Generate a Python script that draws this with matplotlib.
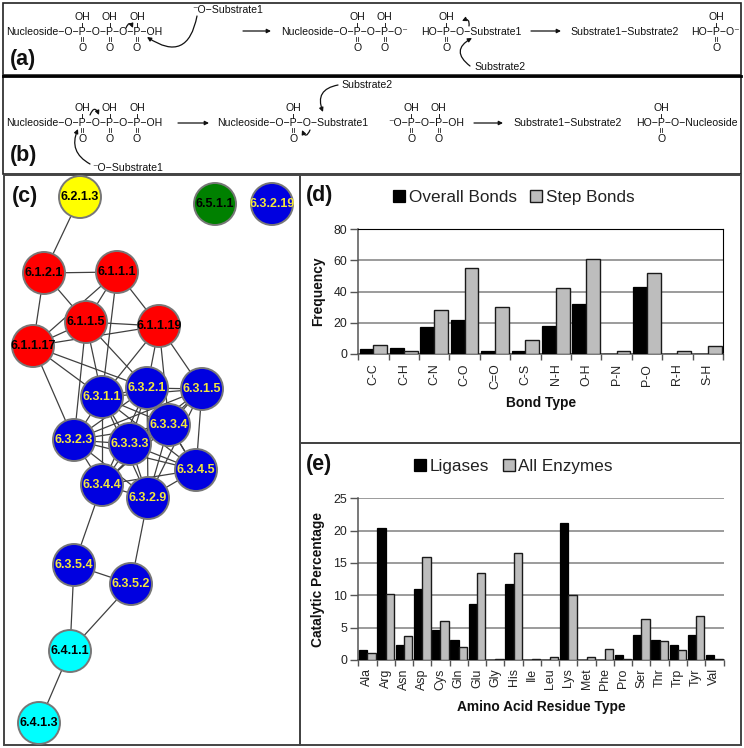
import numpy as np
import matplotlib
matplotlib.use("Agg")
import matplotlib.pyplot as plt
from matplotlib.patches import Circle, Rectangle, FancyArrowPatch

plt.rcParams['font.family'] = ['Liberation Sans', 'DejaVu Sans']

# ---------- data ----------
bond_types = ['C-C', 'C-H', 'C-N', 'C-O', 'C=O', 'C-S', 'N-H', 'O-H', 'P-N', 'P-O', 'R-H', 'S-H']
overall_bonds = [3, 4, 17, 22, 2, 2, 18, 32, 0, 43, 0, 0]
step_bonds = [6, 2, 28, 55, 30, 9, 42, 61, 2, 52, 2, 5]

residues = ['Ala', 'Arg', 'Asn', 'Asp', 'Cys', 'Gln', 'Glu', 'Gly', 'His', 'Ile', 'Leu', 'Lys',
            'Met', 'Phe', 'Pro', 'Ser', 'Thr', 'Trp', 'Tyr', 'Val']
ligases = [1.5, 20.4, 2.3, 11.0, 4.7, 3.1, 8.6, 0, 11.8, 0, 0, 21.2, 0, 0, 0.7, 3.9, 3.1, 2.3, 3.9, 0.7]
all_enzymes = [1.1, 10.2, 3.7, 15.9, 6.1, 2.0, 13.5, 0.1, 16.5, 0.2, 0.4, 10.0, 0.4, 1.7, 0.2, 6.3, 2.9, 1.5, 6.8, 0.2]

node_names = ['6.2.1.3', '6.5.1.1', '6.3.2.19', '6.1.2.1', '6.1.1.1', '6.1.1.5', '6.1.1.19', '6.1.1.17',
              '6.3.1.1', '6.3.2.1', '6.3.1.5', '6.3.3.4', '6.3.2.3', '6.3.3.3', '6.3.4.5', '6.3.4.4',
              '6.3.2.9', '6.3.5.4', '6.3.5.2', '6.4.1.1', '6.4.1.3']
node_x = [80, 215, 272, 44, 117, 86, 159, 33, 102, 147, 202, 169, 74, 130, 196, 102, 148, 74, 131, 70, 39]
node_y = [197, 204, 204, 273, 272, 322, 326, 346, 397, 388, 389, 425, 440, 444, 470, 485, 498, 565, 584, 651, 723]
node_fill = ['#ffff00', '#008000', '#0000e0'] + ['#ff0000'] * 5 + ['#0000e0'] * 11 + ['#00ffff'] * 2
node_text = ['black', 'black', '#f2e63c'] + ['black'] * 5 + ['#f2e63c'] * 11 + ['black'] * 2

edges = [('6.2.1.3', '6.1.2.1'), ('6.1.2.1', '6.1.1.1'), ('6.1.2.1', '6.1.1.5'), ('6.1.2.1', '6.1.1.17'),
         ('6.1.1.1', '6.1.1.5'), ('6.1.1.1', '6.1.1.17'), ('6.1.1.1', '6.1.1.19'), ('6.1.1.1', '6.3.1.1'),
         ('6.1.1.5', '6.1.1.19'), ('6.1.1.5', '6.1.1.17'), ('6.1.1.5', '6.3.1.1'), ('6.1.1.5', '6.3.2.1'),
         ('6.1.1.5', '6.3.2.3'), ('6.1.1.19', '6.1.1.17'), ('6.1.1.19', '6.3.1.1'), ('6.1.1.19', '6.3.2.1'),
         ('6.1.1.19', '6.3.3.4'), ('6.1.1.19', '6.3.1.5'), ('6.1.1.17', '6.3.1.1'), ('6.1.1.17', '6.3.2.1'),
         ('6.1.1.17', '6.3.2.3'), ('6.3.4.4', '6.3.5.4'), ('6.3.2.9', '6.3.5.2'), ('6.3.5.4', '6.3.5.2'),
         ('6.3.5.4', '6.4.1.1'), ('6.3.5.2', '6.4.1.1'), ('6.4.1.1', '6.4.1.3')]
dense_group = ['6.3.1.1', '6.3.2.1', '6.3.1.5', '6.3.3.4', '6.3.2.3', '6.3.3.3', '6.3.4.5', '6.3.4.4', '6.3.2.9']

# ---------- figure ----------
W, H = 744, 748
fig = plt.figure(figsize=(W / 100, H / 100), dpi=100, facecolor='white')
ov = fig.add_axes([0, 0, 1, 1])
ov.set_xlim(0, W)
ov.set_ylim(H, 0)
ov.axis('off')
rend = fig.canvas.get_renderer()

CHEM = 7.6


def width(s):
    t = ov.text(0, 0, s, fontsize=CHEM)
    w = t.get_window_extent(rend).width
    t.remove()
    return w


def chain(x, y, s):
    ov.text(x, y, s, fontsize=CHEM, ha='left', va='center', color='#111111')
    for i, c in enumerate(s):
        if c == 'P':
            cx = x + width(s[:i] + 'P') - width('P') / 2
            ov.text(cx, y - 15, 'OH', fontsize=CHEM, ha='center', va='center', color='#111111')
            ov.text(cx, y + 15.5, 'O', fontsize=CHEM, ha='center', va='center', color='#111111')
            ov.plot([cx, cx], [y - 9.5, y - 5.5], color='#222222', lw=0.7)
            for d in (-1, 1):
                ov.plot([cx + d, cx + d], [y + 4.5, y + 9], color='#222222', lw=0.6)


def straight(x0, x1, y):
    ov.add_patch(FancyArrowPatch((x0, y), (x1, y), arrowstyle='-|>', mutation_scale=6, lw=0.9,
                                 color='#111111', shrinkA=0, shrinkB=0))


def curved(p0, p1, rad):
    ov.add_patch(FancyArrowPatch(p0, p1, connectionstyle=f'arc3,rad={rad}', arrowstyle='-|>',
                                 mutation_scale=6, lw=0.9, color='#111111', shrinkA=0, shrinkB=0))


# panel frames
for (x, y, w, h, lw, col) in [(3, 3, 738, 72, 1.2, '#222222'), (3, 76, 738, 98, 1.2, '#222222'),
                              (4, 175, 296, 570, 1.4, '#444444'), (300, 175, 441, 268, 1.4, '#444444'),
                              (300, 443, 441, 302, 1.4, '#444444')]:
    ov.add_patch(Rectangle((x, y), w, h, fill=False, ec=col, lw=lw))
ov.plot([3, 741], [75.5, 75.5], color='black', lw=2)

# panel (a)
chain(6, 32, 'Nucleoside\u2212O\u2212P\u2212O\u2212P\u2212O\u2212P\u2212OH')
chain(281, 32, 'Nucleoside\u2212O\u2212P\u2212O\u2212P\u2212O\u207b')
chain(421, 32, 'HO\u2212P\u2212O\u2212Substrate1')
chain(691, 32, 'HO\u2212P\u2212O\u207b')
ov.text(570, 32, 'Substrate1\u2212Substrate2', fontsize=CHEM, va='center', color='#111111')
ov.text(192, 10, '\u207bO\u2212Substrate1', fontsize=CHEM, va='center', color='#111111')
ov.text(474, 67, 'Substrate2', fontsize=CHEM, va='center', color='#111111')
straight(243, 271, 31)
straight(531, 561, 31)
curved((197, 16), (147, 37), -0.75)
curved((470, 66), (472, 38), -0.75)
curved((126, 28), (133, 28), -1.2)
curved((469, 26), (462, 21), 0.9)

# panel (b)
chain(6, 123, 'Nucleoside\u2212O\u2212P\u2212O\u2212P\u2212O\u2212P\u2212OH')
chain(217, 123, 'Nucleoside\u2212O\u2212P\u2212O\u2212Substrate1')
chain(388, 123, '\u207bO\u2212P\u2212O\u2212P\u2212OH')
chain(636, 123, 'HO\u2212P\u2212O\u2212Nucleoside')
ov.text(513, 123, 'Substrate1\u2212Substrate2', fontsize=CHEM, va='center', color='#111111')
ov.text(341, 85, 'Substrate2', fontsize=CHEM, va='center', color='#111111')
ov.text(92, 168, '\u207bO\u2212Substrate1', fontsize=CHEM, va='center', color='#111111')
straight(178, 209, 123)
straight(474, 503, 123)
curved((338, 85), (323, 112), 0.6)
curved((90, 164), (78, 129), -0.45)
curved((90, 115), (99, 115), -1.2)
curved((310, 130), (302, 130), -1.2)

# panel letters
for (x, y, s) in [(10, 59, '(a)'), (10, 155, '(b)'), (12, 196, '(c)'), (306, 195, '(d)'), (306, 464, '(e)')]:
    ov.text(x, y, s, fontsize=15.5, fontweight='bold', ha='left', va='center', color='#111111')

# panel (c) network
pos = {n: (x, y) for n, x, y in zip(node_names, node_x, node_y)}
all_edges = list(edges)
for i, a in enumerate(dense_group):
    for b in dense_group[i + 1:]:
        all_edges.append((a, b))
for a, b in all_edges:
    ov.plot([pos[a][0], pos[b][0]], [pos[a][1], pos[b][1]], color='#404040', lw=0.9, zorder=2)
for n, f, tc in zip(node_names, node_fill, node_text):
    ov.add_patch(Circle(pos[n], 21, fc=f, ec='#777777', lw=1.4, zorder=3))
    ov.text(pos[n][0], pos[n][1], n, fontsize=9, fontweight='bold', color=tc,
            ha='center', va='center', zorder=4)


def bar_panel(rect, cats, s1, s2, n1, n2, ymax, step, xlabel, ylabel, xlab_y, legend_xy, box, xpad):
    l, t, r, b = rect
    ax = fig.add_axes([l / W, 1 - b / H, (r - l) / W, (b - t) / H])
    ax.patch.set_alpha(0)
    x = np.arange(len(cats))
    bw = 0.455
    h1 = ax.bar(x - bw / 2, s1, bw, color='black', edgecolor='black', lw=0.9, zorder=3, label=n1)
    h2 = ax.bar(x + bw / 2, s2, bw, color='#bdbdbd', edgecolor='#1a1a1a', lw=1.0, zorder=3, label=n2)
    ax.set_xlim(-0.5, len(cats) - 0.5)
    ax.set_ylim(0, ymax)
    ax.set_yticks(np.arange(0, ymax + 1, step))
    ax.yaxis.grid(True, color='#808080', lw=1.1, zorder=1)
    ax.set_axisbelow(True)
    ax.set_xticks(np.arange(len(cats) + 1) - 0.5)
    ax.set_xticklabels([])
    ax.set_xticks(x, minor=True)
    ax.set_xticklabels(cats, minor=True, rotation=90, fontsize=8.9, color='#222222')
    ax.tick_params(axis='x', which='major', length=4, width=1, color='#555555')
    ax.tick_params(axis='x', which='minor', length=0, pad=xpad)
    ax.tick_params(axis='y', length=6, width=1, color='#555555', labelsize=8.9, labelcolor='#222222', pad=2)
    for s in ('left', 'bottom'):
        ax.spines[s].set_color('#555555')
        ax.spines[s].set_linewidth(1.1)
    for s in ('top', 'right'):
        ax.spines[s].set_visible(box)
        ax.spines[s].set_color('black')
    ax.set_xlabel(xlabel, fontsize=9.9, fontweight='bold', color='#111111', va='center')
    ax.set_ylabel(ylabel, fontsize=9.9, fontweight='bold', color='#111111', va='center')
    ax.xaxis.set_label_coords(0.5, xlab_y)
    ax.yaxis.set_label_coords((318 - l) / (r - l), 0.5)
    ax.legend(handles=[h1, h2], loc='center', ncols=2, frameon=False, fontsize=12.3,
              bbox_to_anchor=(legend_xy[0] / W, 1 - legend_xy[1] / H), bbox_transform=fig.transFigure,
              handlelength=0.7, handleheight=0.7, handletextpad=0.2, columnspacing=0.8, labelcolor='#222222')
    return ax


bar_panel((358.3, 229, 723, 354), bond_types, overall_bonds, step_bonds, 'Overall Bonds', 'Step Bonds',
          80, 20, 'Bond Type', 'Frequency', -0.392, (513.7, 197.7), True, 7)
bar_panel((358.3, 498.3, 723.5, 660), residues, ligases, all_enzymes, 'Ligases', 'All Enzymes',
          25, 5, 'Amino Acid Residue Type', 'Catalytic Percentage', -0.289, (513.5, 466.7), False, 6)

fig.savefig('out.png', dpi=100)
